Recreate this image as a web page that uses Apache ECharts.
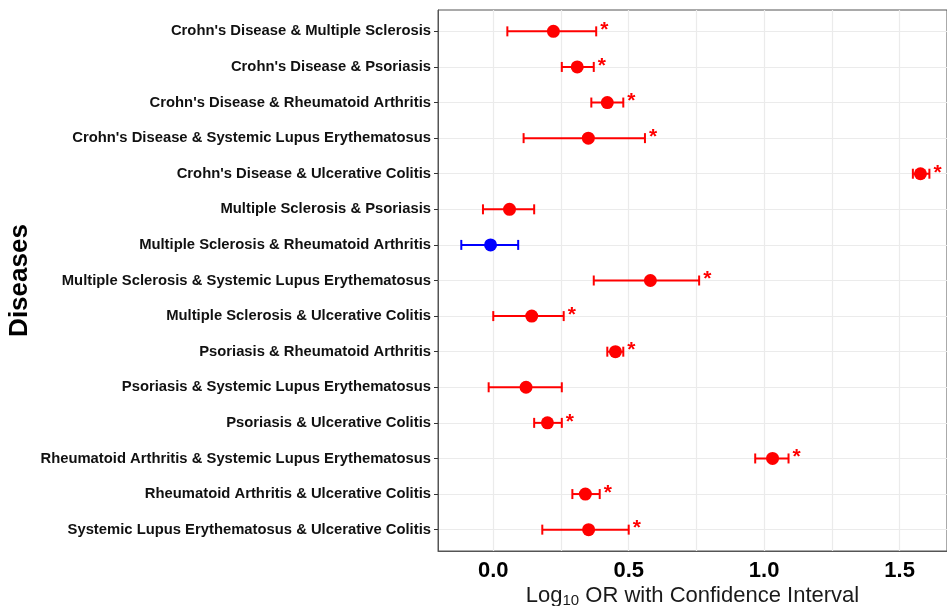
<!DOCTYPE html>
<html lang="en">
  <head>
    <meta charset="UTF-8" />
    <title>Log10 OR forest plot</title>
    <script src="https://cdn.jsdelivr.net/npm/echarts@6.0.0/dist/echarts.min.js"></script>
    <style>
      html, body { margin: 0; padding: 0; background: #fff; }
      #chart { width: 947px; height: 606px; }
    </style>
  </head>
  <body>
    <div id="chart"></div>
    <script>
      const categories = [
        "Crohn's Disease & Multiple Sclerosis",
        "Crohn's Disease & Psoriasis",
        "Crohn's Disease & Rheumatoid Arthritis",
        "Crohn's Disease & Systemic Lupus Erythematosus",
        "Crohn's Disease & Ulcerative Colitis",
        "Multiple Sclerosis & Psoriasis",
        "Multiple Sclerosis & Rheumatoid Arthritis",
        "Multiple Sclerosis & Systemic Lupus Erythematosus",
        "Multiple Sclerosis & Ulcerative Colitis",
        "Psoriasis & Rheumatoid Arthritis",
        "Psoriasis & Systemic Lupus Erythematosus",
        "Psoriasis & Ulcerative Colitis",
        "Rheumatoid Arthritis & Systemic Lupus Erythematosus",
        "Rheumatoid Arthritis & Ulcerative Colitis",
        "Systemic Lupus Erythematosus & Ulcerative Colitis"
      ];
      const estimate = [0.222, 0.31, 0.421, 0.351, 1.577, 0.06, -0.01, 0.58, 0.142, 0.451, 0.121, 0.2, 1.031, 0.34, 0.352];
      const lower = [0.052, 0.253, 0.362, 0.112, 1.549, -0.038, -0.118, 0.371, 0.0, 0.421, -0.017, 0.151, 0.967, 0.292, 0.181];
      const upper = [0.38, 0.371, 0.48, 0.56, 1.61, 0.151, 0.092, 0.76, 0.26, 0.48, 0.253, 0.253, 1.09, 0.393, 0.5];
      const significant = [true, true, true, true, true, false, false, true, true, true, false, true, true, true, true];
      const xTicks = [0, 0.5, 1, 1.5];
      const xGrid = [0, 0.25, 0.5, 0.75, 1, 1.25, 1.5];

      const RED = "#ff0000";
      const BLUE = "#0000ff";
      const rows = categories.map((_, i) => i + 1);
      const colorOf = (i) => (estimate[i] > 0 ? RED : BLUE);

      const chart = echarts.init(document.getElementById("chart"));
      const fontFamily = "'Liberation Sans', Arial, sans-serif";

      const option = {
        backgroundColor: "#fff",
        animation: false,
        grid: {
          left: 438,
          right: 0,
          top: 10,
          bottom: 55,
          outerBoundsMode: "none",
          containLabel: false,
          show: true,
          borderColor: "#555",
          borderWidth: 1
        },
        xAxis: {
          type: "value",
          min: -0.204,
          max: 1.675,
          axisLine: { show: true, onZero: false, lineStyle: { color: "#555", width: 1 } },
          axisTick: { show: false, customValues: xGrid },
          axisLabel: {
            customValues: xTicks,
            formatter: (v) => v.toFixed(1),
            color: "#000",
            fontWeight: "bold",
            fontSize: 22,
            fontFamily,
            margin: 9
          },
          splitLine: { show: true, lineStyle: { color: "#ebebeb", width: 1.2 } },
          name: "{a|Log}{s|10}{a| OR with Confidence Interval}",
          nameLocation: "middle",
          nameMoveOverlap: false,
          nameGap: 33,
          nameTextStyle: {
            rich: {
              a: { fontSize: 22, color: "#1a1a1a", fontFamily, lineHeight: 24 },
              s: { fontSize: 15, color: "#1a1a1a", fontFamily, verticalAlign: "bottom", lineHeight: 24, padding: [9, 0, 0, 0] }
            }
          }
        },
        yAxis: {
          type: "value",
          min: 0.4,
          max: 15.6,
          inverse: true,
          axisLine: { show: true, onZero: false, lineStyle: { color: "#555", width: 1 } },
          axisTick: { show: true, customValues: rows, length: 4, lineStyle: { color: "#333" } },
          axisLabel: {
            customValues: rows,
            formatter: (v) => categories[Math.round(v) - 1] || "",
            color: "#111",
            fontWeight: "bold",
            fontSize: 14.8,
            fontFamily,
            margin: 7
          },
          splitLine: { show: true, lineStyle: { color: "#ebebeb", width: 1.2 } },
          name: "Diseases",
          nameLocation: "middle",
          nameMoveOverlap: false,
          nameGap: 405,
          nameRotate: 90,
          nameTextStyle: { fontSize: 26, fontWeight: "bold", color: "#000", fontFamily }
        },
        series: [
          {
            // error bars with caps and significance stars
            type: "custom",
            data: rows.map((r, i) => [lower[i], upper[i], r, significant[i] ? 1 : 0, estimate[i] > 0 ? 1 : 0]),
            encode: { x: [0, 1], y: 2 },
            renderItem: (params, api) => {
              const lo = api.coord([api.value(0), api.value(2)]);
              const hi = api.coord([api.value(1), api.value(2)]);
              const color = api.value(4) ? RED : BLUE;
              const cap = 5;
              const style = { stroke: color, lineWidth: 2 };
              const children = [
                { type: "line", shape: { x1: lo[0], y1: lo[1], x2: hi[0], y2: hi[1] }, style },
                { type: "line", shape: { x1: lo[0], y1: lo[1] - cap, x2: lo[0], y2: lo[1] + cap }, style },
                { type: "line", shape: { x1: hi[0], y1: hi[1] - cap, x2: hi[0], y2: hi[1] + cap }, style }
              ];
              if (api.value(3)) {
                children.push({
                  type: "text",
                  style: {
                    text: "*",
                    x: hi[0] + 4,
                    y: hi[1] - 1,
                    fill: color,
                    fontSize: 21,
                    fontWeight: "bold",
                    fontFamily,
                    verticalAlign: "middle",
                    align: "left"
                  }
                });
              }
              return { type: "group", children };
            },
            z: 2
          },
          {
            type: "scatter",
            symbol: "circle",
            symbolSize: 13,
            itemStyle: { opacity: 1 },
            data: rows.map((r, i) => ({
              value: [estimate[i], r],
              itemStyle: { color: colorOf(i), opacity: 1 }
            })),
            z: 3
          }
        ]
      };

      chart.setOption(option);
    </script>
  </body>
</html>
